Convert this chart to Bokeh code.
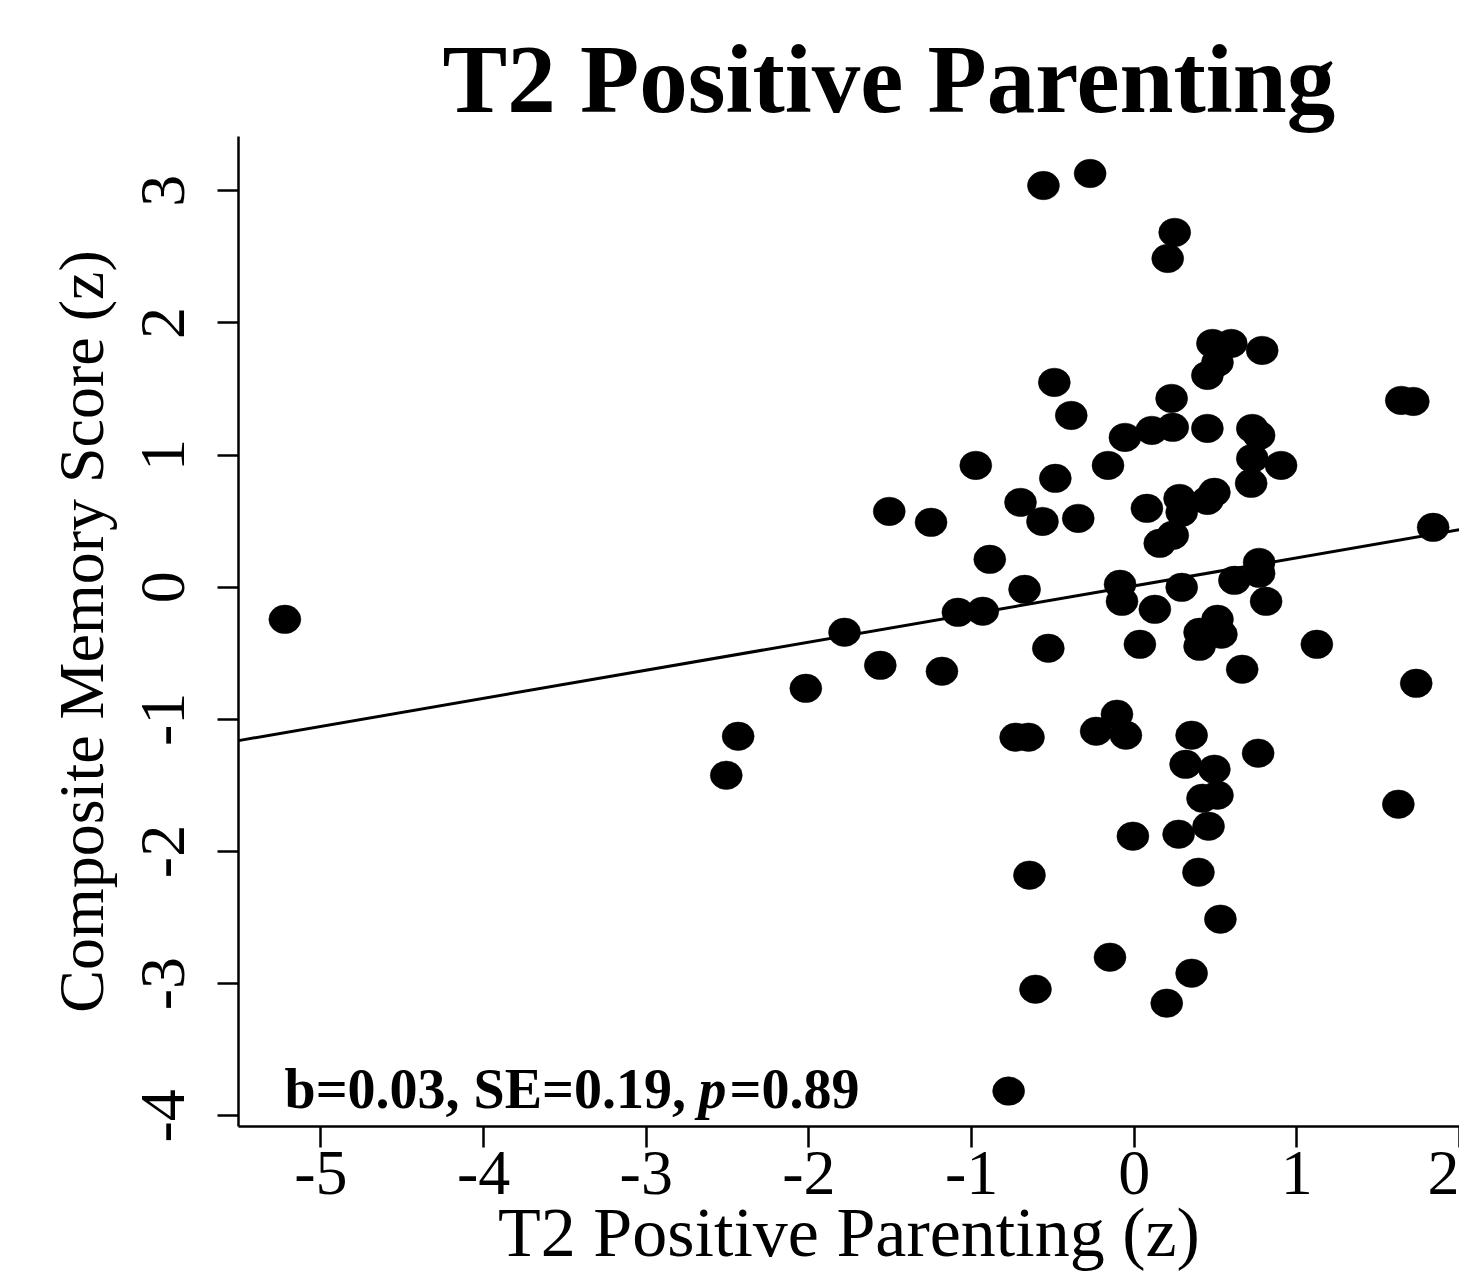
from bokeh.plotting import figure
from bokeh.models import ColumnDataSource, Range1d, FixedTicker, Label
from bokeh.embed import file_html
from bokeh.resources import INLINE

# ---- data ----
parenting_z = [
    -5.222, -0.558, -0.271, 0.249, 0.206, 0.481, 0.597, 0.787, 0.512, 0.450,
    1.642, 1.716, -0.491, -0.387, 0.230, 0.237, 0.108, -0.057, 0.450, 0.726,
    0.768, 0.726, 0.903, 0.719, -0.161, -0.974, -0.485, -0.699, -0.564, -0.344,
    -1.506, -1.249, 0.078, 0.279, 0.292, 0.493, 0.450, 0.237, 0.157, 1.838,
    -0.888, 0.768, 0.768, 0.616, 0.292, -0.087, -0.075, 0.127, 0.811, -0.674,
    -1.084, -0.931, -1.781, -0.528, -2.019, -1.561, -1.182, 0.035, 0.402, 0.512,
    0.536, 0.402, 0.664, 1.123, 1.734, -2.435, -2.508, -0.729, -0.650, -0.106,
    -0.234, -0.051, 0.353, 0.762, 0.316, 0.493, 0.420, 0.512, 0.457, -0.008,
    0.273, 1.624, 0.395, 0.530, -0.644, -0.607, -0.149, 0.353, 0.200, -0.772,
]
memory_z = [
    -0.243, 3.040, 3.131, 2.685, 2.488, 1.845, 1.845, 1.792, 1.701, 1.603,
    1.414, 1.406, 1.550, 1.300, 1.429, 1.210, 1.187, 1.134, 1.202, 1.202,
    1.149, 0.975, 0.922, 0.786, 0.922, 0.922, 0.824, 0.642, 0.498, 0.521,
    0.574, 0.491, 0.597, 0.672, 0.567, 0.718, 0.657, 0.393, 0.332, 0.453,
    0.211, 0.188, 0.105, 0.052, -0.001, 0.022, -0.107, -0.167, -0.107, -0.016,
    -0.190, -0.182, -0.341, -0.462, -0.765, -0.591, -0.636, -0.432, -0.341, -0.243,
    -0.356, -0.447, -0.621, -0.432, -0.727, -1.128, -1.423, -1.135, -1.135, -0.961,
    -1.090, -1.120, -1.120, -1.256, -1.340, -1.377, -1.597, -1.574, -1.809, -1.884,
    -1.869, -1.642, -2.157, -2.512, -2.179, -3.042, -2.800, -2.921, -3.148, -3.813,
]
fit_intercept = 0.010
fit_slope = 0.2126

x_ticks = [-5, -4, -3, -2, -1, 0, 1, 2]
x_tick_labels = ["-5", "-4", "-3", "-2", "-1", "0", "1", "2"]
y_ticks = [-4, -3, -2, -1, 0, 1, 2, 3]
y_tick_labels = ["-4", "-3", "-2", "-1", "0", "1", "2", "3"]

title_text = "T2 Positive Parenting"
x_label = "T2 Positive Parenting (z)"
y_label = "Composite Memory Score (z)"
stat_part1 = "b=0.03, SE=0.19, "
stat_part2 = "p"
stat_part3 = "=0.89"

# ---- figure ----
X0, X1 = -5.507, 2.0
Y0, Y1 = -4.081, 3.411

p = figure(width=1459, height=1273, output_backend="svg", toolbar_location=None,
           x_range=Range1d(X0, X1), y_range=Range1d(Y0, Y1),
           min_border_left=238, min_border_right=0, min_border_top=136,
           min_border_bottom=147)
p.outline_line_color = None
p.grid.visible = False
p.background_fill_color = "white"
p.border_fill_color = "white"

SERIF = "Liberation Serif"

# title
p.title.text = title_text
p.title.align = "left"
p.title.offset = 204
p.title.text_font = SERIF
p.title.text_font_style = "bold"
p.title.text_font_size = "97px"
p.title.text_color = "black"
p.title.standoff = 8

for ax in (p.xaxis[0], p.yaxis[0]):
    ax.axis_line_width = 2.5
    ax.axis_line_color = "black"
    ax.major_tick_line_width = 2.5
    ax.major_tick_line_color = "black"
    ax.major_tick_in = 0
    ax.major_tick_out = 21
    ax.minor_tick_line_color = None
    ax.major_label_text_font = SERIF
    ax.major_label_text_font_size = "64px"
    ax.major_label_text_color = "black"

p.xaxis.ticker = FixedTicker(ticks=x_ticks)
p.xaxis.major_label_overrides = {t: s for t, s in zip(x_ticks, x_tick_labels)}
p.xaxis.major_label_standoff = 4
p.xaxis.axis_label = x_label
p.xaxis.axis_label_text_font = SERIF
p.xaxis.axis_label_text_font_size = "70px"
p.xaxis.axis_label_text_font_style = "normal"
p.xaxis.axis_label_text_color = "black"
p.xaxis.axis_label_standoff = -3

p.yaxis.ticker = FixedTicker(ticks=y_ticks)
p.yaxis.major_label_overrides = {t: s for t, s in zip(y_ticks, y_tick_labels)}
p.yaxis.major_label_orientation = "vertical"
p.yaxis.major_label_standoff = 33
p.yaxis.axis_label = y_label
p.yaxis.axis_label_text_font = SERIF
p.yaxis.axis_label_text_font_size = "64px"
p.yaxis.axis_label_text_font_style = "normal"
p.yaxis.axis_label_text_color = "black"
p.yaxis.axis_label_standoff = 23

# points
src = ColumnDataSource(dict(x=parenting_z, y=memory_z))
p.ellipse(x="x", y="y", width=32, height=28.5, width_units="screen",
          height_units="screen", source=src, fill_color="black", line_color="black",
          line_width=0.5)

# regression line
p.line(x=[X0, X1], y=[fit_intercept + fit_slope * X0, fit_intercept + fit_slope * X1],
       line_color="black", line_width=3)

# stats text
for txt, xs, style in ((stat_part1, 46, "bold"), (stat_part2, 460, "bold italic"),
                       (stat_part3, 491, "bold")):
    p.add_layout(Label(x=xs, y=38, x_units="screen", y_units="screen", text=txt,
                       text_font=SERIF, text_font_style=style, text_font_size="56px",
                       text_align="left", text_baseline="alphabetic", text_color="black"))

open("out.html", "w").write(file_html(p, INLINE))
